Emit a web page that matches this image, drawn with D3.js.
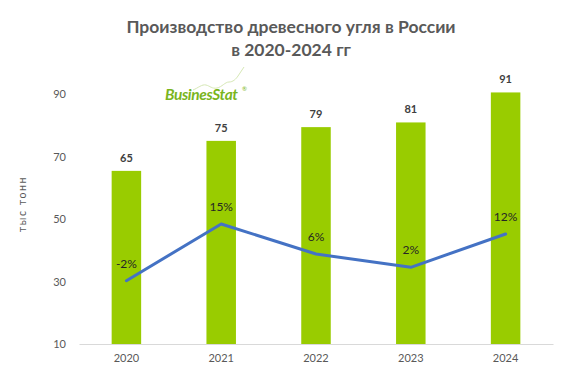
<!DOCTYPE html>
<html>
<head>
<meta charset="utf-8">
<script src="https://cdn.jsdelivr.net/npm/d3@7"></script>
<style>
	body { margin: 0; background: #fff; }
	text { font-family: Lato, "Open Sans", sans-serif; }
</style>
</head>
<body>
<svg id="chart"></svg>
<script>
const years = ["2020", "2021", "2022", "2023", "2024"];
const output = [65.4, 75.0, 79.4, 80.9, 90.5];
const outputLabels = ["65", "75", "79", "81", "91"];
const growth = [-2, 15, 6, 2, 12];
const growthLabels = ["-2%", "15%", "6%", "2%", "12%"];
const yTicks = [10, 30, 50, 70, 90];

const width = 577;
const height = 392;
const plot = { left: 79, right: 553, top: 94, bottom: 344 };

const svg = d3.select("#chart")
	.attr("width", width)
	.attr("height", height);

const x = d3.scaleBand()
	.domain(years)
	.range([plot.left, plot.right]);

const y = d3.scaleLinear()
	.domain([10, 90])
	.range([plot.bottom, plot.top]);

// secondary axis for the growth line, not drawn
const y2 = d3.scaleLinear()
	.domain([-21, 54])
	.range([plot.bottom, plot.top]);

const barW = 29.5;
const cx = d => x(d) + x.bandwidth() / 2;

svg.append("text")
	.attr("x", 291)
	.attr("y", 33)
	.attr("text-anchor", "middle")
	.attr("font-size", 17.5)
	.attr("font-weight", "bold")
	.attr("fill", "#595959")
	.text("Производство древесного угля в России");

svg.append("text")
	.attr("x", 291)
	.attr("y", 56)
	.attr("text-anchor", "middle")
	.attr("font-size", 17.5)
	.attr("font-weight", "bold")
	.attr("fill", "#595959")
	.text("в 2020-2024 гг");

// y axis labels only, no line
const yAxis = svg.append("g")
	.attr("transform", `translate(${plot.left - 13},0)`)
	.call(d3.axisLeft(y).tickValues(yTicks).tickSize(0).tickPadding(0));
yAxis.select(".domain").remove();
yAxis.selectAll("text")
	.attr("font-family", "Lato, sans-serif")
	.attr("font-size", 11)
	.attr("fill", "#595959");

svg.append("text")
	.attr("transform", "translate(26,204) rotate(-90)")
	.attr("text-anchor", "middle")
	.attr("font-size", 10.5)
	.attr("letter-spacing", 1.6)
	.attr("fill", "#595959")
	.text("тыс тонн");

svg.selectAll(".bar")
	.data(years)
	.enter()
	.append("rect")
	.attr("class", "bar")
	.attr("x", d => cx(d) - barW / 2)
	.attr("y", (d, i) => y(output[i]))
	.attr("width", barW)
	.attr("height", (d, i) => plot.bottom - y(output[i]))
	.attr("fill", "#99cc00");

const xAxis = svg.append("g")
	.attr("transform", `translate(0,${plot.bottom})`)
	.call(d3.axisBottom(x).tickSize(0).tickPadding(10));
xAxis.select(".domain").attr("stroke", "#d9d9d9");
xAxis.selectAll("text")
	.attr("font-family", "Lato, sans-serif")
	.attr("font-size", 11)
	.attr("fill", "#595959");

svg.selectAll(".bar-label")
	.data(years)
	.enter()
	.append("text")
	.attr("class", "bar-label")
	.attr("x", d => cx(d))
	.attr("y", (d, i) => y(output[i]) - 9)
	.attr("text-anchor", "middle")
	.attr("font-size", 11)
	.attr("font-weight", "bold")
	.attr("fill", "#404040")
	.text((d, i) => outputLabels[i]);

const line = d3.line()
	.x(d => cx(d))
	.y((d, i) => y2(growth[i]));

svg.append("path")
	.datum(years)
	.attr("d", line)
	.attr("fill", "none")
	.attr("stroke", "#4472c4")
	.attr("stroke-width", 3)
	.attr("stroke-linejoin", "round")
	.attr("stroke-linecap", "round");

svg.selectAll(".growth-label")
	.data(years)
	.enter()
	.append("text")
	.attr("class", "growth-label")
	.attr("x", d => cx(d))
	.attr("y", (d, i) => y2(growth[i]) - 13)
	.attr("text-anchor", "middle")
	.attr("font-size", 12)
	.attr("fill", "#262626")
	.text((d, i) => growthLabels[i]);

// BusinesStat logo
const logo = svg.append("g").attr("transform", "translate(165,100)");
logo.append("path")
	.attr("d", "M28,-10 C33,-12 37,-16 41,-15 C45,-14 47,-11 52,-12 C57,-13 60,-18 64,-18 C68,-18 71,-21 73,-24 C75,-27 77,-30 79,-33")
	.attr("fill", "none")
	.attr("stroke", "#d6e8b5")
	.attr("stroke-width", 1);
logo.append("text")
	.attr("font-size", 15.5)
	.attr("font-weight", "bold")
	.attr("font-style", "italic")
	.attr("letter-spacing", -0.4)
	.attr("fill", "#7ab51d")
	.text("BusinesStat");
logo.append("text")
	.attr("x", 77)
	.attr("y", -9)
	.attr("font-size", 6)
	.attr("fill", "#7ab51d")
	.text("®");
</script>
</body>
</html>
